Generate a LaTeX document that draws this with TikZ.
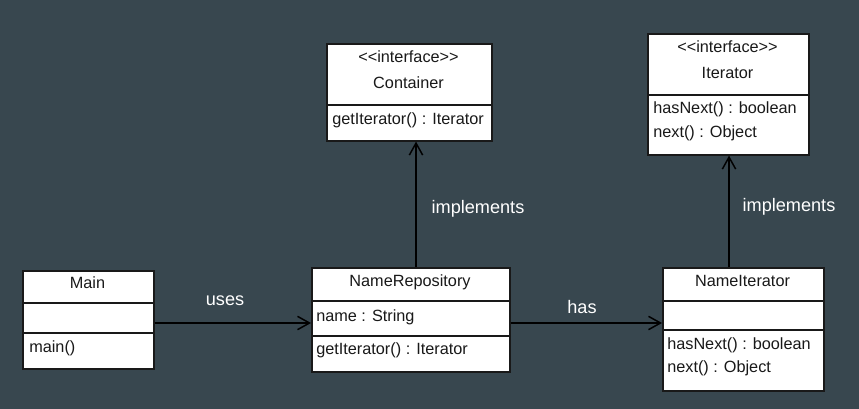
\documentclass[tikz,border=0pt]{standalone}
\usepackage{fontspec}
\setmainfont{Liberation Sans}
\usetikzlibrary{arrows.meta}
\definecolor{bg}{RGB}{56,71,79}
\definecolor{ink}{RGB}{25,25,25}
\tikzset{
  classbox/.style={draw=ink, fill=white, line width=1.2pt, inner sep=0pt, anchor=north west},
  divider/.style={draw=ink, line width=1.1pt},
  ctext/.style={font=\fontsize{12.2pt}{14pt}\selectfont, text=ink, inner sep=0pt},
  mtext/.style={font=\fontsize{12.2pt}{14pt}\selectfont, text=ink, inner sep=0pt, anchor=west},
  lbl/.style={font=\fontsize{13.6pt}{16pt}\selectfont, text=white, inner sep=0pt},
  arr/.style={draw=black, line width=1.2pt, -{Straight Barb[length=9pt, width=10pt, line width=1.1pt]}}
}
\begin{document}
\begin{tikzpicture}[x=0.75pt, y=-0.75pt]
\fill[bg] (0,0) rectangle (859,409);
\useasboundingbox (0,0) rectangle (859,409);

% Container
\node[classbox, minimum width=165*0.75pt, minimum height=97*0.75pt] (container) at (326,43) {};
\draw[divider] (326,105) -- (491,105);
\node[ctext] (c1) at (408.5,57) {<{}<interface>{}>};
\node[ctext] (c2) at (408.5,83) {Container};
\node[mtext] (c3) at (332,120) {getIterator() : Iterator};

% Iterator
\node[classbox, minimum width=161*0.75pt, minimum height=121*0.75pt] (iter) at (647,33) {};
\draw[divider] (647,95) -- (808,95);
\node[ctext] (i1) at (727.5,47) {<{}<interface>{}>};
\node[ctext] (i2) at (727.5,73) {Iterator};
\node[mtext] (i3) at (653,109) {hasNext() : boolean};
\node[mtext] (i4) at (653,133) {next() : Object};

% Main
\node[classbox, minimum width=131*0.75pt, minimum height=98*0.75pt] (main) at (22,270) {};
\draw[divider] (22,303) -- (153,303);
\draw[divider] (22,333) -- (153,333);
\node[ctext] (m1) at (87.5,283) {Main};
\node[mtext] (m2) at (29,348) {main()};

% NameRepository
\node[classbox, minimum width=198*0.75pt, minimum height=104*0.75pt] (repo) at (311,267) {};
\draw[divider] (311,301) -- (509,301);
\draw[divider] (311,336) -- (509,336);
\node[ctext] (r1) at (410,282) {NameRepository};
\node[mtext] (r2) at (316,317) {name : String};
\node[mtext] (r3) at (316,350) {getIterator() : Iterator};

% NameIterator
\node[classbox, minimum width=161*0.75pt, minimum height=123*0.75pt] (niter) at (662,267) {};
\draw[divider] (662,301) -- (823,301);
\draw[divider] (662,330) -- (823,330);
\node[ctext] (n1) at (742.5,281) {NameIterator};
\node[mtext] (n2) at (667,345) {hasNext() : boolean};
\node[mtext] (n3) at (667,368) {next() : Object};

% connectors
\draw[arr] (main.east |- 0,323) -- (repo.west |- 0,323);
\draw[arr] (repo.east |- 0,323) -- (niter.west |- 0,323);
\draw[arr] (repo.north -| 416,0) -- (container.south -| 416,0);
\draw[arr] (niter.north -| 729,0) -- (iter.south -| 729,0);

% labels
\node[lbl] (l1) at (225,301) {uses};
\node[lbl] (l2) at (582,307) {has};
\node[lbl] (l3) at (478,209) {implements};
\node[lbl] (l4) at (789,207) {implements};
\end{tikzpicture}
\end{document}
